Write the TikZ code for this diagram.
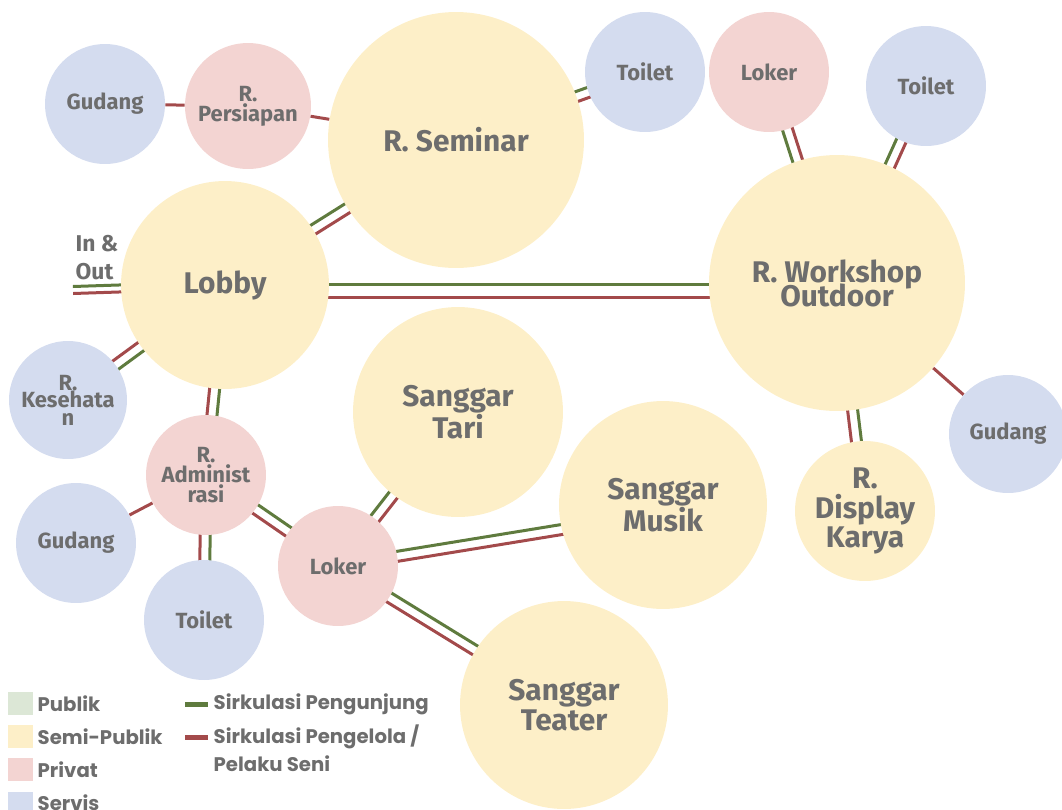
\documentclass[tikz,border=0pt]{standalone}
\usepackage{fontspec}
\setmainfont{Fira Sans}
\newfontfamily\legendfont{Poppins}
\usetikzlibrary{calc,positioning}

\pgfdeclarelayer{bawah}
\pgfsetlayers{bawah,main}

\definecolor{publik}{HTML}{DCE7D6}
\definecolor{semipublik}{HTML}{FDEFC8}
\definecolor{privat}{HTML}{F3D4D2}
\definecolor{servis}{HTML}{D4DCEF}
\definecolor{hijaujalur}{HTML}{5F7B3E}
\definecolor{merahjalur}{HTML}{A34A4B}
\definecolor{teksabu}{HTML}{6D6D6D}

% tight leading for the workshop label
\newcommand{\rapat}{\lineskiplimit=-20pt\relax}

\tikzset{
  ruang/.style={circle, inner sep=0pt, align=center, text=teksabu,
    font=\bfseries\fontsize{12.5}{10}\selectfont},
  ruangbesar/.style={ruang, font=\bfseries\fontsize{17}{17}\selectfont},
  jalurP/.style={draw=hijaujalur, line width=0.06cm},
  jalurK/.style={draw=merahjalur, line width=0.06cm},
  kotak/.style={minimum width=0.5cm, minimum height=0.46cm, inner sep=0pt},
  garisleg/.style={minimum width=0.46cm, minimum height=0.1cm, inner sep=0pt},
  ket/.style={inner sep=0pt, text=teksabu,
    font=\legendfont\bfseries\fontsize{11.2}{13}\selectfont}
}

% pair of circulation lines: visitor (green) on the left of a->b, staff (red) on the right
\newcommand{\sirkulasi}[3][0.1cm]{%
  \draw[jalurP] ($(#2)!#1!90:(#3)$) -- ($(#3)!#1!-90:(#2)$);
  \draw[jalurK] ($(#2)!#1!-90:(#3)$) -- ($(#3)!#1!90:(#2)$);}

\begin{document}
\begin{tikzpicture}[x=0.02cm, y=-0.02cm]

  \useasboundingbox (0,0) rectangle (1062,809);
  \clip (0,0) rectangle (1062,809);

  % Rooms along the top
  \node[ruang, fill=servis, minimum size=2.4cm] (gudangA) at (105,104) {Gudang};
  \node[ruang, fill=privat, minimum size=2.52cm] (persiapan) at (248,106) {R.\\Persiapan};
  \node[ruangbesar, fill=semipublik, minimum size=5.12cm] (seminar) at (456,140) {R. Seminar};
  \node[ruang, fill=servis, minimum size=2.4cm] (toiletA) at (645,72) {Toilet};
  \node[ruang, fill=privat, minimum size=2.4cm] (lokerA) at (769,72) {Loker};
  \node[ruang, fill=servis, minimum size=2.4cm] (toiletB) at (926,86) {Toilet};

  % Workshop side
  \node[ruangbesar, fill=semipublik, minimum size=5.12cm,
    font=\bfseries\fontsize{17}{13.6}\selectfont\rapat] (workshop) at (837,283) {R. Workshop\\Outdoor};
  \node[ruang, fill=servis, minimum size=2.36cm] (gudangC) at (1008,434) {Gudang};
  \node[ruangbesar, fill=semipublik, minimum size=2.8cm] (display) at (865,511) {R.\\Display\\Karya};

  % Lobby and the rooms round it
  \node[ruangbesar, fill=semipublik, minimum size=4.16cm] (lobby) at (225,285) {Lobby};
  \coordinate (masuk) at (73,290);
  \coordinate (lobbyT) at ($(lobby)+(0,6)$);
  \coordinate (workshopB) at ($(workshop)+(0,8)$);
  \node[inner sep=0pt, align=left, text=teksabu,
    font=\bfseries\fontsize{13}{16}\selectfont] (inout) at (97,258) {In \&\\Out};
  \node[ruang, fill=servis, minimum size=2.36cm] (kesehatan) at (68,400) {R.\\Kesehata\\n};
  \node[ruang, fill=privat, minimum size=2.4cm] (admin) at (206,475) {R.\\Administ\\rasi};
  \node[ruang, fill=servis, minimum size=2.4cm] (gudangB) at (76,543) {Gudang};
  \node[ruang, fill=servis, minimum size=2.4cm] (toiletC) at (204,620) {Toilet};
  \node[ruang, fill=privat, minimum size=2.4cm] (lokerB) at (338,566) {Loker};

  % Sanggar
  \node[ruangbesar, fill=semipublik, minimum size=4.2cm] (tari) at (458,412) {Sanggar\\Tari};
  \node[ruangbesar, fill=semipublik, minimum size=4.16cm] (musik) at (663,505) {Sanggar\\Musik};
  \node[ruangbesar, fill=semipublik, minimum size=4.16cm] (teater) at (564,705) {Sanggar\\Teater};
  \coordinate (musikB) at ($(musik)+(0,8)$);

  % Circulation
  \begin{pgfonlayer}{bawah}
    \draw[jalurK] (gudangA) -- (persiapan);
    \draw[jalurK] (persiapan) -- (seminar);
    \sirkulasi{seminar}{toiletA}
    \sirkulasi{workshop}{lokerA}
    \sirkulasi{workshop}{toiletB}
    \sirkulasi{lobby}{seminar}
    \sirkulasi[0.13cm]{lobbyT}{workshopB}
    \sirkulasi[0.07cm]{masuk}{lobby}
    \sirkulasi{lobby}{kesehatan}
    \sirkulasi{lobby}{admin}
    \sirkulasi{admin}{toiletC}
    \sirkulasi{admin}{lokerB}
    \draw[jalurK] (admin) -- (gudangB);
    \sirkulasi{lokerB}{tari}
    \sirkulasi{lokerB}{musikB}
    \sirkulasi{lokerB}{teater}
    \sirkulasi{workshop}{display}
    \draw[jalurK] (workshop) -- (gudangC);
  \end{pgfonlayer}

  % Legend
  \node[kotak, fill=publik] (kPublik) at (20.5,703.5) {};
  \node[kotak, fill=semipublik, below=0.19cm of kPublik] (kSemi) {};
  \node[kotak, fill=privat, below=0.19cm of kSemi] (kPrivat) {};
  \node[kotak, fill=servis, below=0.19cm of kPrivat] (kServis) {};
  \node[ket, right=0.08cm of kPublik] (tPublik) {Publik};
  \node[ket, right=0.08cm of kSemi] (tSemi) {Semi-Publik};
  \node[ket, right=0.08cm of kPrivat] (tPrivat) {Privat};
  \node[ket, right=0.08cm of kServis] (tServis) {Servis};

  \node[garisleg, fill=hijaujalur] (lHijau) at (196.5,704) {};
  \node[garisleg, fill=merahjalur] (lMerah) at (196.5,737) {};
  \node[ket, right=0.1cm of lHijau] (tHijau) {Sirkulasi Pengunjung};
  \node[ket, right=0.1cm of lMerah] (tMerah) {Sirkulasi Pengelola /};
  \node[ket, below=0.12cm of tMerah.south west, anchor=north west] (tMerahB) {Pelaku Seni};

\end{tikzpicture}
\end{document}
